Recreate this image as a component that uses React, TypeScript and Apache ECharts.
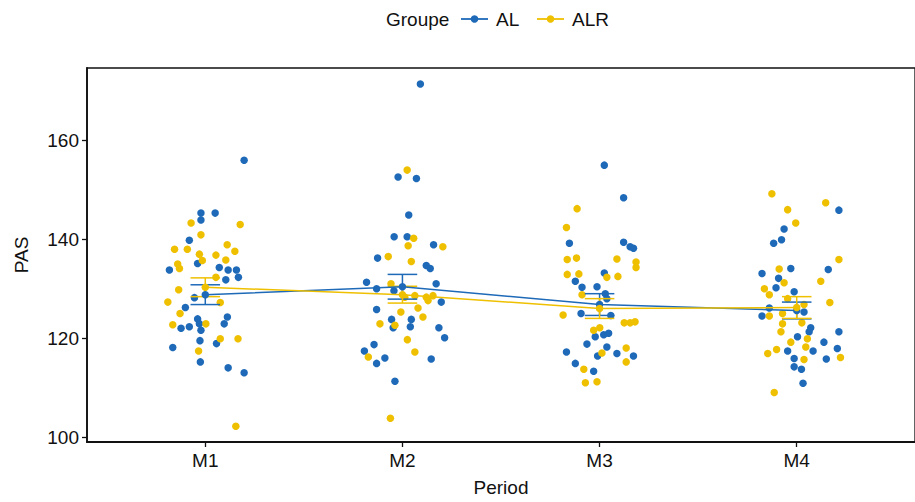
import React, { useEffect, useRef } from "react";
import * as echarts from "echarts";

const periods = ["M1", "M2", "M3", "M4"];
const groupNames = ["AL", "ALR"];
const groupColors = ["#1E6AB8", "#EFC000"];
const yTicks = [100, 120, 140, 160];

// jittered observations: [horizontal jitter (category units), PAS]
const alM1 = [
  [0.197, 156], [-0.022, 145.3], [0.05, 145.3], [-0.022, 143.9], [-0.081, 139.8], [-0.039, 135.1],
  [-0.182, 133.8], [0.071, 134.3], [0.116, 133.8], [0.158, 133.8], [0.168, 132.3], [0.104, 131.8],
  [-0.055, 128.2], [-0.101, 126.2], [-0.123, 122], [-0.081, 122.3], [-0.039, 123.9], [-0.03, 122.9],
  [-0.022, 121.6], [0.112, 124.3], [0.096, 122.9], [-0.027, 119.5], [0.057, 118.9], [-0.165, 118.1],
  [-0.025, 115.2], [0.116, 114], [0.197, 113],
];
const alM2 = [
  [0.091, 171.4], [-0.022, 152.6], [0.071, 152.3], [0.032, 144.9], [-0.042, 140.5], [0.024, 140.5],
  [0.158, 138.9], [-0.126, 136.2], [0.121, 134.7], [0.141, 134.1], [-0.182, 131.3], [-0.131, 130],
  [-0.043, 129.6], [0.171, 131], [0.197, 127.3], [-0.131, 125.8], [-0.055, 123.8], [0.045, 123.8],
  [-0.047, 122.1], [0.04, 122.3], [0.185, 122.1], [0.214, 120.1], [-0.144, 118.7], [-0.193, 117.4],
  [-0.131, 114.9], [-0.089, 116], [0.146, 115.8], [-0.038, 111.3],
];
const alM3 = [
  [0.024, 155], [0.122, 148.4], [-0.153, 139.2], [0.122, 139.4], [0.155, 138.5], [0.172, 138.2],
  [0.024, 133.2], [-0.123, 131.5], [-0.089, 130.3], [-0.013, 130.4], [0.029, 129], [0.037, 128],
  [-0.094, 125], [0.057, 124.6], [-0.022, 120.3], [0.021, 120.7], [0.046, 121], [-0.064, 118.8],
  [-0.168, 117.2], [0.037, 118.2], [-0.01, 116.4], [0.088, 116.9], [0.172, 116.4], [-0.123, 114.9],
  [-0.03, 113.3],
];
const alM4 = [
  [0.214, 145.9], [-0.064, 142.1], [-0.077, 139.9], [-0.117, 139.2], [-0.03, 134.1], [0.16, 133.9],
  [-0.176, 133.1], [-0.092, 132.1], [-0.105, 130.2], [-0.013, 129.4], [-0.139, 126.1], [-0.176, 124.5],
  [0.037, 125.3], [0.071, 122.1], [0.063, 121.3], [0.214, 121.3], [0.004, 120.3], [0.138, 119.2],
  [-0.046, 117.4], [0.083, 117.4], [0.206, 117.9], [-0.013, 115.9], [0.15, 115.8], [-0.013, 114.2],
  [0.024, 113.7], [0.032, 110.9],
];
const alrM1 = [
  [-0.072, 143.3], [0.177, 143], [-0.022, 140.9], [-0.156, 138], [-0.091, 138], [0.111, 138.9],
  [0.15, 137.6], [-0.03, 137], [0.054, 136.8], [0.104, 135.8], [-0.14, 135], [-0.131, 134.1],
  [-0.015, 135.7], [0.054, 132.3], [-0.135, 129.8], [-0.19, 127.3], [0.076, 127.2], [-0.128, 125],
  [-0.165, 122.7], [0.003, 122.9], [0.076, 119.9], [0.166, 119.9], [-0.034, 117.4], [0.155, 102.2],
];
const alrM2 = [
  [0.024, 154], [0.057, 140.2], [0.029, 138.7], [0.205, 138.5], [-0.072, 136.5], [0.045, 135.5],
  [-0.058, 131], [0.012, 128.3], [0.063, 128.6], [0.121, 128.3], [0.155, 128.6], [0.13, 127.6],
  [-0.008, 125.3], [0.079, 126.1], [0.104, 124.3], [-0.114, 122.9], [-0.038, 122.6], [0.025, 119.7],
  [-0.173, 116.2], [0.063, 117.2], [-0.061, 103.8],
];
const alrM3 = [
  [-0.114, 146.2], [-0.168, 142.4], [-0.164, 135.9], [-0.117, 136.2], [0.088, 136], [0.185, 135.4],
  [0.185, 134.3], [-0.164, 132.9], [-0.105, 133], [0.037, 132.3], [0.093, 132.5], [-0.089, 128.8],
  [-0.185, 124.7], [0.125, 123.1], [0.155, 123.1], [0.18, 123.3], [-0.03, 121.6], [0.001, 122.1],
  [0.135, 118], [0.012, 117], [0.135, 115.2], [-0.08, 113.7], [-0.072, 111], [-0.013, 111.2],
];
const alrM4 = [
  [-0.126, 149.2], [-0.046, 146], [0.147, 147.4], [-0.005, 143.3], [0.214, 135.9], [-0.089, 134],
  [-0.064, 131.2], [0.122, 131.5], [-0.164, 130], [-0.139, 128.8], [-0.046, 128], [0.168, 127.2],
  [0.037, 126.8], [-0.139, 124.5], [-0.072, 125], [0.026, 123.1], [-0.072, 122.9], [-0.08, 121.3],
  [0.054, 119.9], [-0.03, 119.2], [0.046, 118.2], [-0.102, 117.7], [-0.147, 116.9], [0.037, 115.7],
  [0.222, 116.1], [-0.114, 109],
];

// group means and standard errors per period
const alMeans = [128.8, 130.4, 126.8, 125.6];
const alSE = [2.0, 2.5, 2.2, 1.7];
const alrMeans = [130.3, 128.8, 126.0, 126.2];
const alrSE = [1.9, 1.7, 2.0, 2.2];

const groupObs = [
  [alM1, alM2, alM3, alM4],
  [alrM1, alrM2, alrM3, alrM4],
];
const groupMeans = [alMeans, alrMeans];
const groupSE = [alSE, alrSE];

const FONT = "Liberation Sans";
const FS = 19;

export default function App() {
  const ref = useRef<HTMLDivElement>(null);
  useEffect(() => {
    if (!ref.current) return;
    const chart = echarts.init(ref.current, null, { renderer: "svg" });

    const scatterSeries = groupNames.map((name, g) => ({
      type: "scatter",
      name,
      symbol: "circle",
      symbolSize: 7.5,
      itemStyle: { color: groupColors[g], opacity: 1 },
      z: 2,
      data: groupObs[g].flatMap((obs, p) => obs.map(([dx, v]) => [p + 1 + dx, v])),
    }));

    const lineSeries = groupNames.map((name, g) => ({
      type: "line",
      name: name + " mean",
      symbol: "circle",
      symbolSize: 7.5,
      showSymbol: true,
      lineStyle: { color: groupColors[g], width: 1.5 },
      itemStyle: { color: groupColors[g] },
      z: 4,
      data: groupMeans[g].map((m, p) => [p + 1, m]),
    }));

    const errSeries = groupNames.map((name, g) => ({
      type: "custom",
      name: name + " se",
      z: 3,
      encode: { x: 0, y: [1, 2] },
      data: groupMeans[g].map((m, p) => [p + 1, m - groupSE[g][p], m + groupSE[g][p]]),
      renderItem: (params: any, api: any) => {
        const x = api.value(0);
        const lo = api.coord([x, api.value(1)]);
        const hi = api.coord([x, api.value(2)]);
        const half = api.size([0.075, 0])[0];
        const st = { stroke: groupColors[g], lineWidth: 1.5 };
        return {
          type: "group",
          children: [
            { type: "line", shape: { x1: lo[0], y1: lo[1], x2: hi[0], y2: hi[1] }, style: st },
            { type: "line", shape: { x1: lo[0] - half, y1: lo[1], x2: lo[0] + half, y2: lo[1] }, style: st },
            { type: "line", shape: { x1: hi[0] - half, y1: hi[1], x2: hi[0] + half, y2: hi[1] }, style: st },
          ],
        };
      },
    }));

    const legendY = 19;
    const key = (x0: number, g: number) => [
      { type: "line", shape: { x1: x0, y1: legendY, x2: x0 + 27, y2: legendY }, style: { stroke: groupColors[g], lineWidth: 1.8 } },
      { type: "circle", shape: { cx: x0 + 13.5, cy: legendY, r: 3.8 }, style: { fill: groupColors[g] } },
    ];
    const ltext = (x: number, text: string) => ({
      type: "text",
      x,
      y: legendY,
      style: { text, fontSize: FS, fill: "#111", fontFamily: FONT, textVerticalAlign: "middle", verticalAlign: "middle" },
    });

    chart.setOption({
      animation: false,
      backgroundColor: "#ffffff",
      textStyle: { fontFamily: FONT },
      grid: { left: 87, top: 68, width: 833, height: 376, show: true, borderColor: "#111", borderWidth: 1.3, containLabel: false },
      xAxis: {
        type: "value",
        min: 0.4,
        max: 4.6,
        name: "Period",
        nameLocation: "middle",
        nameGap: 36,
        nameTextStyle: { fontSize: FS, color: "#111", fontFamily: FONT },
        splitLine: { show: false },
        axisLine: { show: true, onZero: false, lineStyle: { color: "#111", width: 1.8 } },
        axisTick: { show: true, length: 5, customValues: [1, 2, 3, 4], lineStyle: { color: "#111", width: 1.3 } },
        axisLabel: {
          customValues: [1, 2, 3, 4],
          formatter: (v: number) => periods[Math.round(v) - 1] ?? "",
          fontSize: FS,
          color: "#111",
          margin: 9,
          fontFamily: FONT,
        },
      },
      yAxis: {
        type: "value",
        min: 99,
        max: 174.65,
        name: "PAS",
        nameLocation: "middle",
        nameGap: 56,
        nameRotate: 90,
        nameTextStyle: { fontSize: FS, color: "#111", fontFamily: FONT },
        splitLine: { show: false },
        axisLine: { show: true, onZero: false, lineStyle: { color: "#111", width: 1.8 } },
        axisTick: { show: true, length: 5, customValues: yTicks, lineStyle: { color: "#111", width: 1.3 } },
        axisLabel: { customValues: yTicks, fontSize: FS, color: "#111", margin: 8, fontFamily: FONT },
      },
      graphic: [
        ltext(386, "Groupe"),
        ...key(461, 0),
        ltext(496, "AL"),
        ...key(537, 1),
        ltext(572, "ALR"),
      ],
      series: [...scatterSeries, ...errSeries, ...lineSeries],
    });
    return () => chart.dispose();
  }, []);
  return <div ref={ref} style={{ position: "absolute", left: 0, top: 0, width: 915, height: 502 }} />;
}
